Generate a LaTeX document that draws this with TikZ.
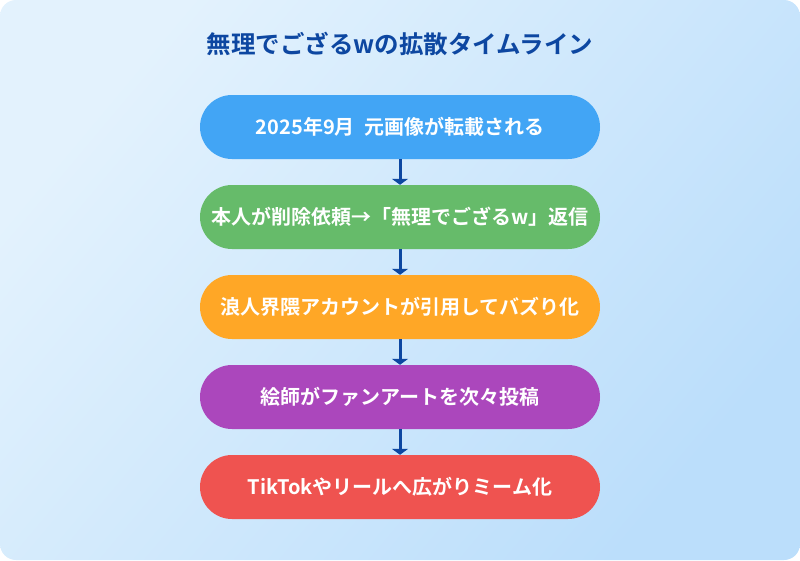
\documentclass[tikz,border=0pt]{standalone}
\usepackage{fontspec}
\newfontfamily\cjk{Noto Sans CJK JP}[BoldFont={Noto Sans CJK JP Bold}]
\usetikzlibrary{arrows.meta}
\definecolor{bgA}{HTML}{E3F2FD}
\definecolor{bgB}{HTML}{BBDEFB}
\definecolor{titleC}{HTML}{0D47A1}
\definecolor{c1}{HTML}{42A5F5}
\definecolor{c2}{HTML}{66BB6A}
\definecolor{c3}{HTML}{FFA726}
\definecolor{c4}{HTML}{AB47BC}
\definecolor{c5}{HTML}{EF5350}
\tikzset{
  pill/.style={fill=#1, draw=none, rounded corners=32pt, minimum width=400pt, minimum height=64pt,
    text=white, font=\cjk\bfseries\fontsize{20}{24}\selectfont, inner sep=0pt},
  flow/.style={draw=titleC, line width=3pt, -{Triangle[width=16pt,length=6pt]}, shorten >=0pt}
}
\begin{document}
\begin{tikzpicture}[x=1pt,y=-1pt]
\useasboundingbox (0,0) rectangle (800,560);
\shade[rounded corners=16pt, left color=bgA, right color=bgB, shading angle=50] (0,0) rectangle (800,560);
\node[font=\cjk\bfseries\fontsize{24.5}{28}\selectfont, text=titleC] (title) at (400,44) {無理でござるwの拡散タイムライン};
\node[pill=c1] (s1) at (400,127) {2025年9月\ \ 元画像が転載される};
\node[pill=c2] (s2) at (400,217) {本人が削除依頼→「無理でござるw」返信};
\node[pill=c3] (s3) at (400,307) {浪人界隈アカウントが引用してバズり化};
\node[pill=c4] (s4) at (400,397) {絵師がファンアートを次々投稿};
\node[pill=c5] (s5) at (400,487) {TikTokやリールへ広がりミーム化};
\draw[flow] (s1.south) -- (s2.north);
\draw[flow] (s2.south) -- (s3.north);
\draw[flow] (s3.south) -- (s4.north);
\draw[flow] (s4.south) -- (s5.north);
\end{tikzpicture}
\end{document}
